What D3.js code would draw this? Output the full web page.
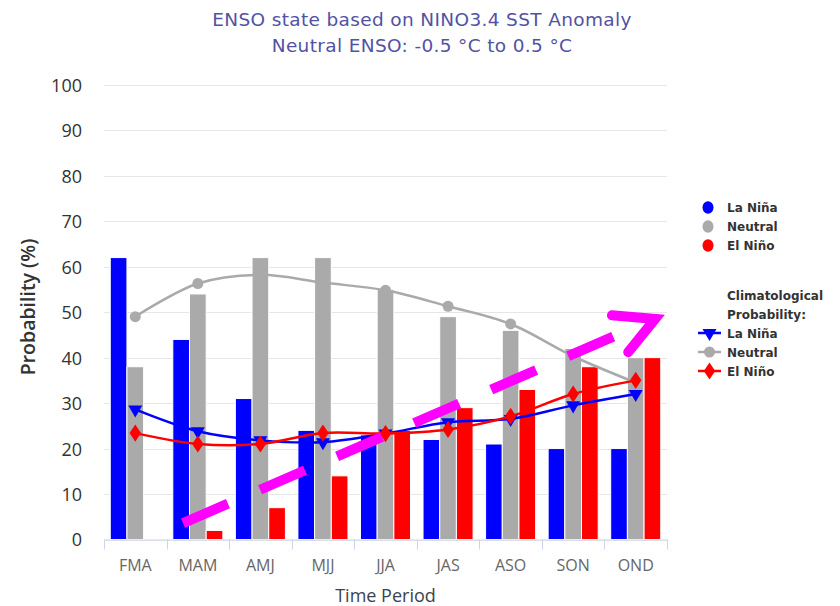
<!DOCTYPE html>
<html>
<head>
<meta charset="utf-8">
<script src="https://cdn.jsdelivr.net/npm/d3@7"></script>
<style>
  html, body { margin: 0; padding: 0; background: #fff; }
  svg { display: block; }
</style>
</head>
<body>
<svg id="chart" width="840" height="606"></svg>
<script>
// ---------------- DATA ----------------
const categories = ["FMA", "MAM", "AMJ", "MJJ", "JJA", "JAS", "ASO", "SON", "OND"];
const seriesNames = ["La Niña", "Neutral", "El Niño"];
const laNina  = [62, 44, 31, 24, 23, 22, 21, 20, 20];
const neutral = [38, 54, 62, 62, 55, 49, 46, 42, 40];
const elNino  = [0, 2, 7, 14, 24, 29, 33, 38, 40];
const climLaNina  = [28.6, 23.8, 21.8, 21.4, 23.3, 25.8, 26.5, 29.5, 32];
const climNeutral = [49, 56.3, 58.2, 56.5, 54.8, 51.3, 47.4, 40.3, 34.5];
const climElNino  = [23.4, 21, 21, 23.4, 23.3, 24.2, 27.1, 32, 35];
const yTicks = [0, 10, 20, 30, 40, 50, 60, 70, 80, 90, 100];
const titleLines = ["ENSO state based on NINO3.4 SST Anomaly", "Neutral ENSO: -0.5 °C to 0.5 °C"];
// hand-drawn annotation arrow, in (category position, value) units
const arrowShaft = [[1.263, 3.6], [8.14, 44.6]];
const arrowHead  = [[8.12, 49.3], [8.81, 48.5], [8.38, 41.2]];

// ---------------- LAYOUT ----------------
const svg = d3.select("#chart");
const colors = { "La Niña": "#0000ff", "Neutral": "#aaaaaa", "El Niño": "#ff0000" };
const plot = { left: 104, right: 667, top: 84.8, bottom: 539.5 };

const x0 = d3.scaleBand().domain(categories).range([plot.left, plot.right]).padding(0);
const bw = x0.bandwidth();
const x1 = d3.scaleBand().domain(seriesNames).range([bw * 0.1, bw * 0.9]).padding(0);
const y = d3.scaleLinear().domain([0, 100]).range([plot.bottom, plot.top]);
const xc = d3.scaleLinear().domain([0, categories.length]).range([plot.left, plot.right]);
const xMid = c => x0(c) + bw / 2;

// gridlines
svg.append("g").selectAll("line").data(yTicks).join("line")
  .attr("x1", plot.left).attr("x2", plot.right)
  .attr("y1", d => Math.round(y(d)) + 0.5).attr("y2", d => Math.round(y(d)) + 0.5)
  .attr("stroke", "#e6e6e6").attr("stroke-width", 1);

// y axis labels
const yAxis = d3.axisLeft(y).tickValues(yTicks).tickSize(0).tickPadding(0);
const yg = svg.append("g").attr("transform", `translate(82,0)`).call(yAxis);
yg.select(".domain").remove();
yg.selectAll("text")
  .attr("font-family", "'Open Sans', sans-serif").attr("font-size", 18)
  .attr("fill", "#333").attr("dy", "0.36em");

// y title
svg.append("text")
  .attr("transform", `translate(35,${307}) rotate(-90)`)
  .attr("text-anchor", "middle")
  .attr("font-family", "'Open Sans', sans-serif").attr("font-size", 19.5).attr("font-weight", 600)
  .attr("fill", "#333").text("Probability (%)");

// bars
const barData = [laNina, neutral, elNino];
const barG = svg.append("g");
categories.forEach((c, i) => {
  seriesNames.forEach((s, k) => {
    const v = barData[k][i];
    barG.append("rect")
      .attr("x", x0(c) + x1(s))
      .attr("width", x1.bandwidth())
      .attr("y", y(v))
      .attr("height", y(0) - y(v))
      .attr("fill", colors[s])
      .attr("stroke", "#fff").attr("stroke-width", 1);
  });
});

// x axis
const xAxis = d3.axisBottom(x0).tickSize(0).tickPadding(0);
const xg = svg.append("g").attr("transform", `translate(0,${plot.bottom})`).call(xAxis);
xg.select(".domain").attr("stroke", "#ccd6eb").attr("d", `M${plot.left},0.5H${plot.right}`);
xg.selectAll("text")
  .attr("font-family", "'Open Sans', sans-serif").attr("font-size", 16)
  .attr("fill", "#666").attr("y", 20);
// tick marks between categories
const boundaries = d3.range(categories.length + 1);
svg.append("g").selectAll("line").data(boundaries).join("line")
  .attr("x1", d => Math.round(xc(d)) + 0.5).attr("x2", d => Math.round(xc(d)) + 0.5)
  .attr("y1", plot.bottom).attr("y2", plot.bottom + 10)
  .attr("stroke", "#ccd6eb").attr("stroke-width", 1);

svg.append("text")
  .attr("x", (plot.left + plot.right) / 2).attr("y", 601.5)
  .attr("text-anchor", "middle")
  .attr("font-family", "'Open Sans', sans-serif").attr("font-size", 18)
  .attr("fill", "#3a4350").text("Time Period");

// climatology lines
const symbols = { "La Niña": d3.symbolTriangle, "Neutral": d3.symbolCircle, "El Niño": d3.symbolDiamond };
const climData = [climLaNina, climNeutral, climElNino];
const line = d3.line().x((d, i) => xMid(categories[i])).y(d => y(d)).curve(d3.curveCatmullRom.alpha(0.5));
function marker(g, s, cx, cy) {
  const sym = d3.symbol().type(symbols[s]).size(s === "Neutral" ? 95 : 85);
  let rot = s === "La Niña" ? " rotate(180)" : "";
  let sc = s === "El Niño" ? " scale(1.15,1)" : "";
  g.append("path").attr("d", sym()).attr("transform", `translate(${cx},${cy})${rot}${sc}`)
    .attr("fill", colors[s]);
}
seriesNames.forEach((s, k) => {
  const g = svg.append("g");
  g.append("path").datum(climData[k]).attr("d", line)
    .attr("fill", "none").attr("stroke", colors[s]).attr("stroke-width", 2.5);
  climData[k].forEach((v, i) => marker(g, s, xMid(categories[i]), y(v)));
});

// annotation arrow
const ptx = p => [xc(p[0]), y(p[1])];
const shaft = arrowShaft.map(ptx);
const sl = Math.hypot(shaft[1][0] - shaft[0][0], shaft[1][1] - shaft[0][1]);
const dash = 49, gap = (sl - 6 * dash) / 5;
svg.append("path").attr("d", d3.line()(shaft))
  .attr("fill", "none").attr("stroke", "#ff00ff").attr("stroke-width", 10)
  .attr("stroke-dasharray", `${dash},${gap}`).attr("stroke-linecap", "butt");
svg.append("path").attr("d", d3.line()(arrowHead.map(ptx)))
  .attr("fill", "none").attr("stroke", "#ff00ff").attr("stroke-width", 10)
  .attr("stroke-linecap", "round").attr("stroke-linejoin", "miter").attr("stroke-miterlimit", 10);

// title
svg.append("g").selectAll("text").data(titleLines).join("text")
  .attr("x", 422).attr("y", (d, i) => 26 + i * 26)
  .attr("text-anchor", "middle")
  .attr("font-family", "'DejaVu Sans', sans-serif").attr("font-size", 18.5)
  .attr("letter-spacing", 0.35)
  .attr("fill", "#5252a3").text(d => d);

// legend
const lg = svg.append("g").attr("font-family", "'DejaVu Sans', sans-serif")
  .attr("font-size", 12).attr("font-weight", "bold").attr("fill", "#333");
seriesNames.forEach((s, k) => {
  const cy = 207.5 + k * 19;
  lg.append("ellipse").attr("cx", 708).attr("cy", cy).attr("rx", 5.5).attr("ry", 6.2).attr("fill", colors[s]);
  lg.append("text").attr("x", 727).attr("y", cy + 4.5).text(s);
});
lg.append("text").attr("x", 727).attr("y", 300).text("Climatological");
lg.append("text").attr("x", 727).attr("y", 319).text("Probability:");
seriesNames.forEach((s, k) => {
  const cy = 333 + k * 19;
  lg.append("line").attr("x1", 698).attr("x2", 721).attr("y1", cy).attr("y2", cy)
    .attr("stroke", colors[s]).attr("stroke-width", 2.5);
  marker(lg, s, 709.5, cy);
  lg.append("text").attr("x", 727).attr("y", cy + 4.5).text(s);
});
</script>
</body>
</html>
